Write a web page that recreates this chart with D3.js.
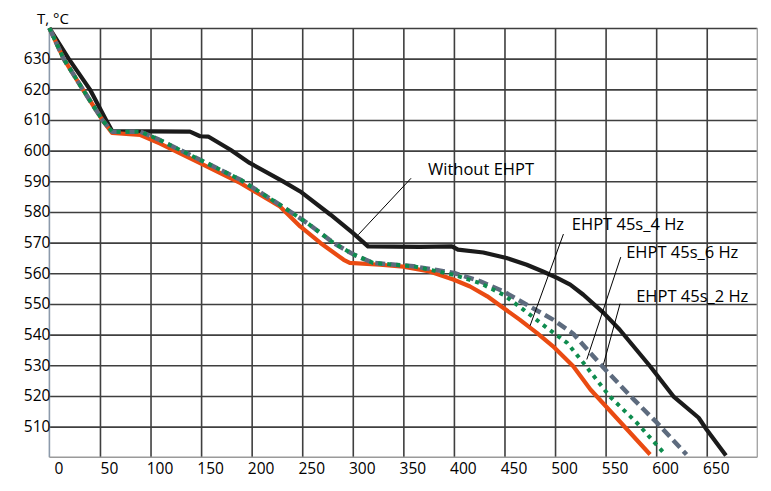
<!DOCTYPE html>
<html>
<head>
<meta charset="utf-8">
<script src="https://cdn.jsdelivr.net/npm/d3@7"></script>
<style>
  html, body { margin: 0; padding: 0; background: #ffffff; }
  svg { display: block; font-family: "Open Sans", "Liberation Sans", sans-serif; }
</style>
</head>
<body>
<svg id="chart" width="771" height="491"></svg>
<script>
// ---------------- data ----------------
const xTicks = [0, 50, 100, 150, 200, 250, 300, 350, 400, 450, 500, 550, 600, 650];
const yTicks = [510, 520, 530, 540, 550, 560, 570, 580, 590, 600, 610, 620, 630];
const yGrid  = [510, 520, 530, 540, 550, 560, 570, 580, 590, 600, 610, 620, 630, 640];

const seriesNames = ["Without EHPT", "EHPT 45s_4 Hz", "EHPT 45s_2 Hz", "EHPT 45s_6 Hz"];

const timeWithout = [0, 19, 40, 56, 62, 139, 149, 157, 179, 198, 231, 248, 278, 300, 315, 366, 398, 404, 429, 452, 472, 488, 502, 515, 528, 548, 564, 594, 617, 642, 650, 669];
const tempWithout = [640, 630, 620, 610, 606.4, 606.2, 604.7, 604.6, 600.3, 596, 590, 586.7, 579.1, 573.2, 568.8, 568.6, 568.8, 567.7, 566.8, 565, 562.8, 560.6, 558.5, 556.3, 553, 547.1, 541.6, 529.7, 519.9, 512.9, 509, 500.6];

const time4Hz = [0, 14, 33, 53, 62, 90, 109, 149, 189, 228, 248, 268, 291, 297, 327, 350, 376, 400, 416, 433, 449, 465, 482, 498, 518, 535, 594];
const temp4Hz = [640, 630, 620, 609.7, 605.8, 605.1, 602.4, 595.9, 589.4, 581.8, 575.3, 569.9, 564.4, 563.4, 562.8, 562.2, 560.6, 557.9, 555.7, 552.5, 548.7, 544.9, 540.6, 536.2, 529.7, 522.1, 500.9];

const time2Hz = [0, 14, 33, 53, 62, 90, 109, 149, 189, 228, 255, 281, 301, 320, 360, 400, 426, 449, 475, 498, 518, 548, 578, 601, 630];
const temp2Hz = [640, 630, 620, 609.7, 606.2, 606.2, 603.5, 597, 590.5, 582.3, 576.4, 569.9, 566.1, 563.4, 562.3, 560.1, 557.4, 554.1, 549.2, 544.9, 540.3, 529.2, 518.8, 511.2, 500.9];

const time6Hz = [0, 14, 33, 53, 62, 90, 109, 149, 189, 228, 255, 281, 301, 320, 360, 400, 426, 449, 469, 492, 512, 528, 554, 581, 609];
const temp6Hz = [640, 630, 620, 609.7, 606.2, 606.2, 603.5, 597, 590.5, 582.3, 576.4, 569.9, 566.1, 563.4, 562.3, 559.5, 556.8, 553, 548.1, 542.2, 537.3, 530.8, 519.9, 511.2, 500.9];

// ---------------- layout ----------------
const svg = d3.select("#chart");
const x = d3.scaleLinear().domain([0, 700]).range([49.4, 757.3]);
const y = d3.scaleLinear().domain([500, 640]).range([457.3, 28]);

// horizontal gridlines
svg.append("g")
  .attr("transform", `translate(${x(0)},0)`)
  .call(d3.axisLeft(y).tickValues(yGrid).tickSize(-(x(700) - x(0))).tickFormat(""))
  .call(g => g.select(".domain").remove())
  .call(g => g.selectAll(".tick line").attr("stroke", "#3f3f3f").attr("stroke-width", 1.6));

// vertical gridlines
svg.append("g")
  .attr("transform", `translate(0,${y(500)})`)
  .call(d3.axisBottom(x).tickValues(xTicks.filter(v => v > 0)).tickSize(-(y(500) - y(640))).tickFormat(""))
  .call(g => g.select(".domain").remove())
  .call(g => g.selectAll(".tick line").attr("stroke", "#3f3f3f").attr("stroke-width", 1.6));

// frame: left, bottom, right axes (light)
svg.append("line").attr("x1", x(0)).attr("x2", x(0)).attr("y1", y(640)).attr("y2", y(500))
  .attr("stroke", "#8c9aab").attr("stroke-width", 1.6);
svg.append("line").attr("x1", x(0)).attr("x2", x(700)).attr("y1", y(500)).attr("y2", y(500))
  .attr("stroke", "#9a9a9a").attr("stroke-width", 1.6);
svg.append("line").attr("x1", x(700)).attr("x2", x(700)).attr("y1", y(640)).attr("y2", y(500))
  .attr("stroke", "#a6a6a6").attr("stroke-width", 1.4);

// y tick labels
svg.append("g")
  .attr("transform", `translate(${x(0) + 1},0)`)
  .call(d3.axisLeft(y).tickValues(yTicks).tickSize(0).tickPadding(0))
  .call(g => g.select(".domain").remove())
  .call(g => g.selectAll("text")
    .attr("font-family", "'Open Sans', sans-serif")
    .attr("font-size", 15.5).attr("fill", "#000"));

// x tick labels
svg.append("g")
  .attr("transform", `translate(9,${y(500)})`)
  .call(d3.axisBottom(x).tickValues(xTicks).tickSize(0).tickPadding(6))
  .call(g => g.select(".domain").remove())
  .call(g => g.selectAll("text")
    .attr("font-family", "'Open Sans', sans-serif")
    .attr("font-size", 15.5).attr("fill", "#000"));

// axis title
svg.append("text").attr("x", 37).attr("y", 24)
  .attr("font-size", 15).attr("fill", "#000").text("T, \u00B0C");

// ---------------- lines ----------------
const line = d3.line().x(d => x(d[0])).y(d => y(d[1]));
const zip = (a, b) => a.map((v, i) => [v, b[i]]);

const series = [
  { name: seriesNames[0], t: timeWithout, v: tempWithout, color: "#1b1b1b", width: 4.2, dash: null },
  { name: seriesNames[1], t: time4Hz, v: temp4Hz, color: "#ea4b12", width: 4.2, dash: null },
  { name: seriesNames[2], t: time2Hz, v: temp2Hz, color: "#5d6b7e", width: 4.5, dash: "10,5" },
  { name: seriesNames[3], t: time6Hz, v: temp6Hz, color: "#0e8c4e", width: 4, dash: "4,5" }
];

series.forEach(s => {
  svg.append("path")
    .datum(zip(s.t, s.v))
    .attr("fill", "none")
    .attr("stroke", s.color)
    .attr("stroke-width", s.width)
    .attr("stroke-linejoin", "round")
    .attr("stroke-dasharray", s.dash)
    .attr("d", line);
});

// ---------------- annotations ----------------
const notes = [
  { text: seriesNames[0], tx: 374.4, ty: 594.3, x1: 357.6, y1: 591, x2: 305.5, y2: 572.6 },
  { text: seriesNames[1], tx: 516.6, ty: 576.2, x1: 508.3, y1: 572.8, x2: 475.3, y2: 542.9 },
  { text: "EHPT 45s_6 Hz", tx: 570.3, ty: 567.1, x1: 565, y1: 565.3, x2: 531.4, y2: 531.9 },
  { text: seriesNames[2], tx: 580.2, ty: 552.7, x1: 564.3, y1: 550.1, x2: 547.8, y2: 530.2 }
];

notes.forEach(n => {
  svg.append("line")
    .attr("x1", x(n.x1)).attr("y1", y(n.y1))
    .attr("x2", x(n.x2)).attr("y2", y(n.y2))
    .attr("stroke", "#000").attr("stroke-width", 1);
  svg.append("text")
    .attr("x", x(n.tx)).attr("y", y(n.ty))
    .attr("dominant-baseline", "central")
    .attr("font-size", 16.5).attr("fill", "#000")
    .text(n.text);
});
</script>
</body>
</html>
